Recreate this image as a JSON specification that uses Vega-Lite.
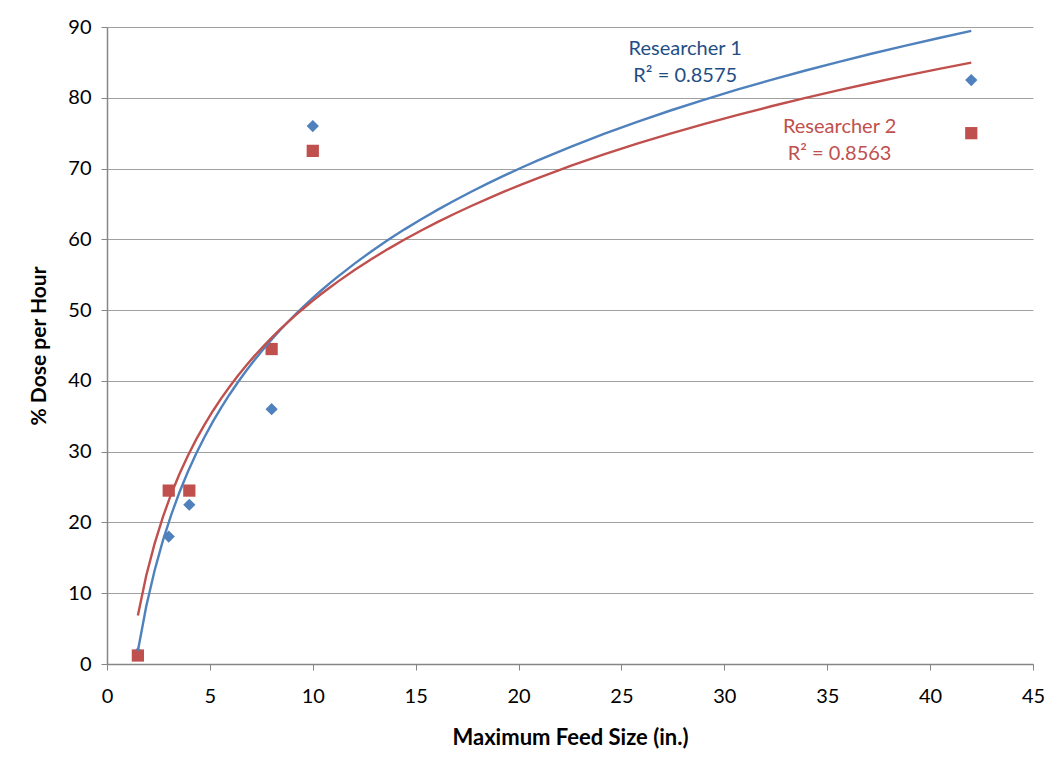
{
  "$schema": "https://vega.github.io/schema/vega-lite/v6.json",
  "width": 926,
  "height": 637,
  "autosize": {"type": "none"},
  "padding": {"left": 107, "top": 27, "right": 25, "bottom": 106},
  "background": "white",
  "config": {
    "font": "Lato",
    "view": {"stroke": null},
    "axis": {
      "labelFont": "Lato",
      "titleFont": "Lato",
      "labelFontSize": 20,
      "titleFontSize": 21,
      "labelColor": "#000000",
      "titleColor": "#000000",
      "domainColor": "#868686",
      "tickColor": "#868686",
      "gridColor": "#A0A0A0",
      "domainWidth": 1.5,
      "tickWidth": 1,
      "tickSize": 6
    }
  },
  "datasets": {
    "points": [
      {"size_in": 1.5, "dose": 1.5, "series": "Researcher 1"},
      {"size_in": 3, "dose": 18, "series": "Researcher 1"},
      {"size_in": 4, "dose": 22.5, "series": "Researcher 1"},
      {"size_in": 8, "dose": 36, "series": "Researcher 1"},
      {"size_in": 10, "dose": 76, "series": "Researcher 1"},
      {"size_in": 42, "dose": 82.5, "series": "Researcher 1"},
      {"size_in": 1.5, "dose": 1.2, "series": "Researcher 2"},
      {"size_in": 3, "dose": 24.5, "series": "Researcher 2"},
      {"size_in": 4, "dose": 24.5, "series": "Researcher 2"},
      {"size_in": 8, "dose": 44.5, "series": "Researcher 2"},
      {"size_in": 10, "dose": 72.5, "series": "Researcher 2"},
      {"size_in": 42, "dose": 75, "series": "Researcher 2"}
    ],
    "labels": [
      {"size_in": 28.1, "dose": 86.9, "text": "Researcher 1", "series": "Researcher 1"},
      {"size_in": 28.1, "dose": 83.1, "text": "R² = 0.8575", "series": "Researcher 1"},
      {"size_in": 35.6, "dose": 75.9, "text": "Researcher 2", "series": "Researcher 2"},
      {"size_in": 35.6, "dose": 72.1, "text": "R² = 0.8563", "series": "Researcher 2"}
    ]
  },
  "layer": [
    {
      "data": {"name": "points"},
      "mark": {"type": "point", "filled": true, "opacity": 1, "size": 150},
      "encoding": {
        "x": {
          "field": "size_in", "type": "quantitative",
          "scale": {"domain": [0, 45], "nice": false, "zero": true},
          "axis": {"values": [0,5,10,15,20,25,30,35,40,45], "grid": false, "title": "Maximum Feed Size (in.)", "titleFontSize": 22, "titlePadding": 21, "labelPadding": 16, "labelFlush": false}
        },
        "y": {
          "field": "dose", "type": "quantitative",
          "scale": {"domain": [0, 90], "nice": false},
          "axis": {"values": [0,10,20,30,40,50,60,70,80,90], "grid": true, "title": "% Dose per Hour", "titlePadding": 18, "labelPadding": 10, "labelFlush": false}
        },
        "shape": {
          "field": "series", "type": "nominal",
          "scale": {"domain": ["Researcher 1", "Researcher 2"], "range": ["diamond", "square"]},
          "legend": null
        },
        "color": {
          "field": "series", "type": "nominal",
          "scale": {"domain": ["Researcher 1", "Researcher 2"], "range": ["#4F81BD", "#C0504D"]},
          "legend": null
        }
      }
    },
    {
      "data": {"name": "points"},
      "transform": [
        {"regression": "dose", "on": "size_in", "groupby": ["series"], "method": "log"}
      ],
      "mark": {"type": "line", "strokeWidth": 2.4},
      "encoding": {
        "x": {"field": "size_in", "type": "quantitative"},
        "y": {"field": "dose", "type": "quantitative"},
        "color": {
          "field": "series", "type": "nominal",
          "scale": {"domain": ["Researcher 1", "Researcher 2"], "range": ["#4F81BD", "#C0504D"]},
          "legend": null
        }
      }
    },
    {
      "data": {"name": "labels"},
      "mark": {"type": "text", "fontSize": 20, "font": "Lato", "align": "center", "baseline": "middle"},
      "encoding": {
        "x": {"field": "size_in", "type": "quantitative"},
        "y": {"field": "dose", "type": "quantitative"},
        "text": {"field": "text"},
        "color": {
          "field": "series", "type": "nominal",
          "scale": {"domain": ["Researcher 1", "Researcher 2"], "range": ["#1F4E85", "#C0504D"]},
          "legend": null
        }
      }
    }
  ],
  "resolve": {"scale": {"color": "independent"}}
}
